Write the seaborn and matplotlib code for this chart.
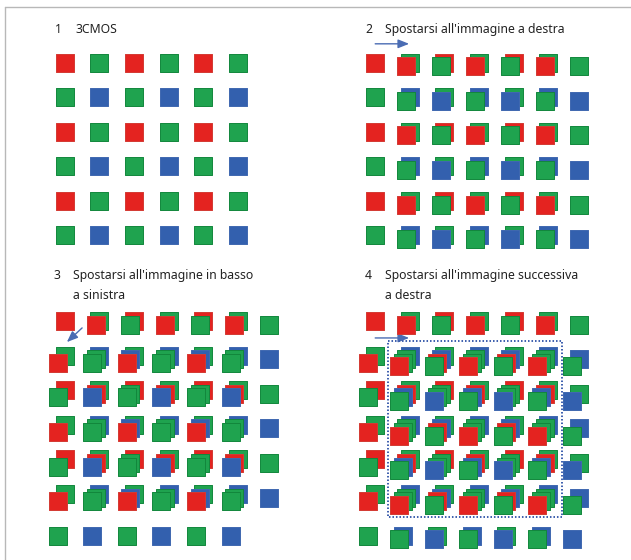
import matplotlib
matplotlib.use("Agg")
import matplotlib.pyplot as plt
from matplotlib.patches import Rectangle
from matplotlib.lines import Line2D
import seaborn as sns
import numpy as np
import pandas as pd

# Bayer layout of the sensor (R/G/B per photosite)
BAYER = ["RGRGRG",
         "GBGBGB",
         "RGRGRG",
         "GBGBGB",
         "RGRGRG",
         "GBGBGB"]

# sensor shift (col, row) of each exposure, in photosites
SHIFTS = [(0, 0), (1, 0), (0, 1), (1, 1)]

# how many exposures each panel stacks
PANEL_LAYERS = [1, 2, 3, 4]
PANEL_NUMS = ["1", "2", "3", "4"]
PANEL_TITLES = ["3CMOS",
                "Spostarsi all'immagine a destra",
                "Spostarsi all'immagine in basso\na sinistra",
                "Spostarsi all'immagine successiva\na destra"]

FILL = {"R": "#e42320", "G": "#1fa34f", "B": "#3360ae"}
EDGE = {"R": "#d43a33", "G": "#12873c", "B": "#4068b0"}
ARROW_COL = "#4a6cb3"

W, H = 631, 560
PITCH = 34.6          # px between photosites
STEP = 0.105          # visual offset of each stacked exposure (grid units)
SQ = 158              # marker area (pt^2)
ORIGINS = [(64.8, 62.5), (375.2, 62.5), (64.8, 321.0), (375.2, 321.0)]
TEXT_X = [(55, 75), (365, 385), (53, 73), (365, 385)]
TEXT_Y = [33.3, 33.3, 279.0, 279.0]
LINE_GAP = 20.0
FS = 8.8

sns.set_theme(style="white")
plt.rcParams["font.family"] = ["Noto Sans", "DejaVu Sans"]

fig = plt.figure(figsize=(W / 100, H / 100), dpi=100)
fig.patch.set_facecolor("white")

# frame: only the top and left edges are visible
fig.add_artist(Line2D([5 / W, 1], [1 - 7 / H, 1 - 7 / H],
                      color="#b8b8b8", lw=1.0, transform=fig.transFigure))
fig.add_artist(Line2D([5 / W, 5 / W], [1 - 7 / H, 0],
                      color="#b8b8b8", lw=1.0, transform=fig.transFigure))


def panel_axes(ox, oy):
    x0, x1 = -1.0, 7.0
    y0, y1 = -1.2, 7.2
    left, right = ox + x0 * PITCH, ox + x1 * PITCH
    top, bottom = oy + y0 * PITCH, oy + y1 * PITCH
    ax = fig.add_axes([left / W, 1 - bottom / H,
                       (right - left) / W, (bottom - top) / H])
    ax.patch.set_alpha(0)
    return ax, (x0, x1, y0, y1)


def build_layers(n_layers):
    recs = []
    for k in range(n_layers):
        dc, dr = SHIFTS[k]
        for r, line in enumerate(BAYER):
            for c, ch in enumerate(line):
                recs.append({"layer": k, "col": c + dc, "row": r + dr,
                             "color": ch})
    df = pd.DataFrame(recs)
    df["x"] = df["col"] - df["layer"] * STEP
    df["y"] = df["row"] + df["layer"] * STEP
    return df


def arrow(ax, start, end):
    ax.annotate("", xy=end, xytext=start,
                arrowprops=dict(arrowstyle="-|>,head_length=0.55,head_width=0.22",
                                color=ARROW_COL, lw=1.0,
                                shrinkA=0, shrinkB=0))


for i in range(4):
    ax, (x0, x1, y0, y1) = panel_axes(*ORIGINS[i])
    df = build_layers(PANEL_LAYERS[i])
    for (k, ch), sub in df.groupby(["layer", "color"]):
        sns.scatterplot(data=sub, x="x", y="y", marker="s", s=SQ,
                        color=FILL[ch], edgecolor=EDGE[ch], linewidth=0.7,
                        ax=ax, zorder=3 + k, legend=False)
    ax.set_xlim(x0, x1)
    ax.set_ylim(y1, y0)
    ax.set_axis_off()

    if i == 1:
        arrow(ax, (0.0, -0.54), (0.98, -0.54))
    elif i == 2:
        arrow(ax, (0.50, 0.20), (0.06, 0.61))
    elif i == 3:
        arrow(ax, (0.0, 0.49), (0.98, 0.49))
        # photosites covered by all four exposures
        c_lo = max(s[0] for s in SHIFTS)
        c_hi = len(BAYER[0]) - 1 + min(s[0] for s in SHIFTS)
        r_lo = max(s[1] for s in SHIFTS)
        r_hi = len(BAYER) - 1 + min(s[1] for s in SHIFTS)
        rx0, rx1 = c_lo - 0.63, c_hi + 0.40
        ry0, ry1 = r_lo - 0.42, r_hi + 0.66
        ax.add_patch(Rectangle((rx0, ry0), rx1 - rx0, ry1 - ry0,
                               fill=False, ec="#3d5fae", lw=1.4,
                               ls=(0, (0.8, 1.0)), zorder=10))

    nx, lx = TEXT_X[i]
    fig.text(nx / W, 1 - TEXT_Y[i] / H, PANEL_NUMS[i], fontsize=FS,
             color="#222222", va="baseline", ha="left")
    for j, line in enumerate(PANEL_TITLES[i].split("\n")):
        fig.text(lx / W, 1 - (TEXT_Y[i] + j * LINE_GAP) / H, line,
                 fontsize=FS, color="#222222", va="baseline", ha="left")

fig.savefig("out.png", dpi=100, facecolor="white")
